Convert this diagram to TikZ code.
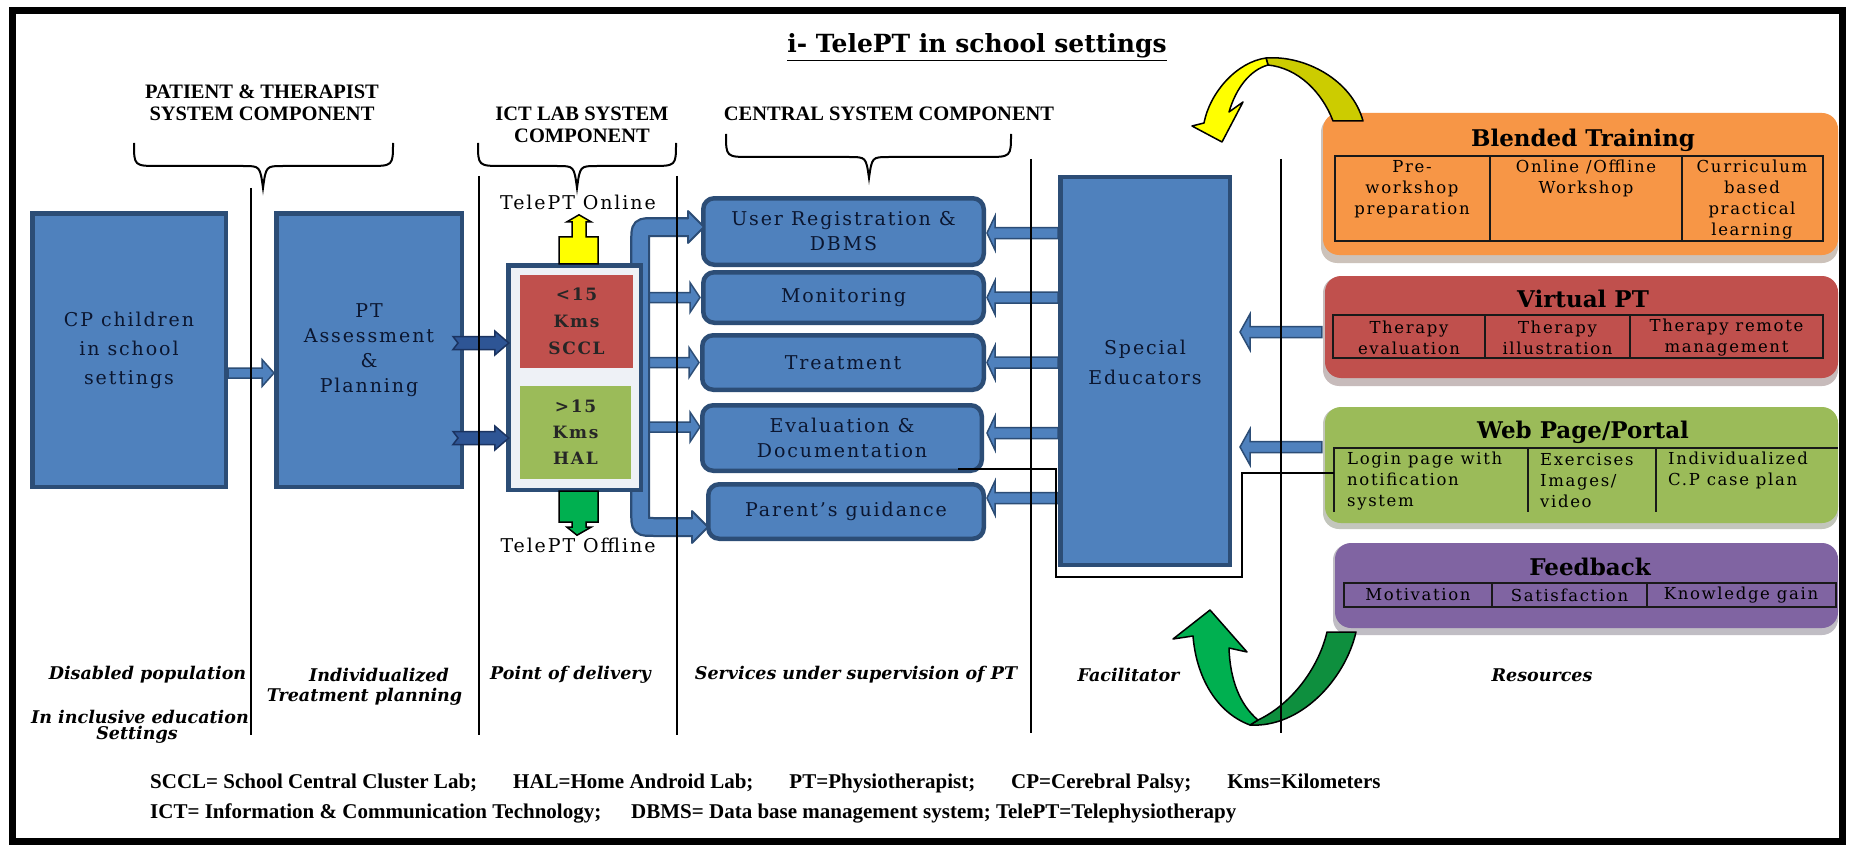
\documentclass[tikz,border=0pt]{standalone}
\usepackage{fontspec}
\usetikzlibrary{calc}
\setmainfont{DejaVu Serif}
\newfontfamily\bodyf{DejaVu Serif}[LetterSpace=10]
\newfontfamily\serf{DejaVu Serif}
\newfontfamily\timf{Liberation Serif}

\definecolor{boxblue}{HTML}{4F81BD}
\definecolor{boxedge}{HTML}{2C4D76}
\definecolor{navy}{HTML}{0B1630}
\definecolor{ictred}{HTML}{C0504D}
\definecolor{ictgreen}{HTML}{9BBB59}
\definecolor{lightpanel}{HTML}{EEF1F6}
\definecolor{notchblue}{HTML}{2E5595}
\definecolor{notchedge}{HTML}{1B3360}
\definecolor{panelorange}{HTML}{F79646}
\definecolor{panelred}{HTML}{C0504D}
\definecolor{panelgreen}{HTML}{9BBB59}
\definecolor{panelpurple}{HTML}{8064A2}
\definecolor{loopyellow}{HTML}{FFFF00}
\definecolor{loopolive}{HTML}{CCCC00}
\definecolor{loopgreen}{HTML}{00B050}
\definecolor{loopdark}{HTML}{0E8F3E}
\colorlet{shadeO}{panelorange!35!black}
\colorlet{shadeR}{panelred!35!black}
\colorlet{shadeG}{panelgreen!35!black}
\colorlet{shadeP}{panelpurple!35!black}

% horizontal block arrow: style, from, to, shaft half-height, head half-height, head length
\newcommand\blockarrow[6]{%
  \path[#1] let \p1=(#2), \p2=(#3), \n1={sign(\x2-\x1)} in
    (\x1,\y1+#4) -- (\x2-\n1*#6,\y1+#4) -- (\x2-\n1*#6,\y1+#5) -- (\x2,\y1)
    -- (\x2-\n1*#6,\y1-#5) -- (\x2-\n1*#6,\y1-#4) -- (\x1,\y1-#4) -- cycle;}
% same with a notched tail (last argument: notch depth)
\newcommand\notcharrow[7]{%
  \path[#1] let \p1=(#2), \p2=(#3), \n1={sign(\x2-\x1)} in
    (\x1,\y1+#4) -- (\x2-\n1*#6,\y1+#4) -- (\x2-\n1*#6,\y1+#5) -- (\x2,\y1)
    -- (\x2-\n1*#6,\y1-#5) -- (\x2-\n1*#6,\y1-#4) -- (\x1,\y1-#4) -- (\x1+\n1*#7,\y1) -- cycle;}
% head of the tube arrows, pointing right
\newcommand\tubehead[1]{%
  \fill[boxblue] ($(#1)+(-16,-16)$) -- (#1) -- ($(#1)+(-16,16)$) -- cycle;
  \draw[boxedge, line width=1.8pt, line join=round]
    ($(#1)+(-16,-8)$) -- ($(#1)+(-16,-16)$) -- (#1) -- ($(#1)+(-16,16)$) -- ($(#1)+(-16,8)$);}
% curly brace opening downwards: x1, xm, x2, ytop, ymid, ytip
\newcommand\topbrace[6]{%
  \draw[line width=2pt] (#1,#4) .. controls (#1,#5) .. (#1+25,#5) -- (#2-20,#5)
    .. controls (#2-3,#5) .. (#2,#6) .. controls (#2+3,#5) .. (#2+20,#5)
    -- (#3-25,#5) .. controls (#3,#5) .. (#3,#4);}

\begin{document}
\begin{tikzpicture}[x=1pt,y=-1pt,
  lane/.style={line width=1.8pt, black},
  blockbox/.style={draw=boxedge, line width=4.5pt, fill=boxblue, inner sep=0pt,
    text=navy, align=center, font=\bodyf\fontsize{19}{25}\selectfont},
  centralbox/.style={blockbox, rounded corners=11pt},
  panel/.style={rounded corners=16pt, inner sep=0pt},
  paneltitle/.style={font=\serf\bfseries\fontsize{23}{26}\selectfont, inner sep=0pt},
  cell/.style={font=\bodyf\fontsize{16.5}{21}\selectfont, align=center, inner sep=0pt},
  cellleft/.style={cell, align=left},
  hdr/.style={font=\timf\bfseries\fontsize{20.5}{22}\selectfont, align=center, inner sep=0pt},
  lanelabel/.style={font=\serf\bfseries\itshape\fontsize{17.5}{22}\selectfont, inner sep=0pt},
  footer/.style={font=\timf\bfseries\fontsize{21}{25}\selectfont, anchor=west, inner sep=0pt},
  tablerule/.style={line width=1.8pt, black!90},
  barrow/.style={fill=boxblue, draw=boxedge, line width=1.5pt},
  darrow/.style={fill=notchblue, draw=notchedge, line width=1.5pt},
  plain/.style={font=\bodyf\fontsize{19}{25}\selectfont, inner sep=0pt}]

\useasboundingbox (0,0) rectangle (1851,845);
\fill[white] (0,0) rectangle (1851,845);

% ---------- resource panels ----------
\node[panel, fill=shadeO!30, minimum width=517pt, minimum height=147pt] (blendedsh) at (1579.5,189.5) {};
\node[panel, fill=panelorange, minimum width=515pt, minimum height=142pt] (blended) at (1580.5,184) {};
\node[panel, fill=shadeR!30, minimum width=515pt, minimum height=109pt] (virtualsh) at (1580.5,331.5) {};
\node[panel, fill=panelred, minimum width=513pt, minimum height=102pt] (virtual) at (1581.5,327) {};
\node[panel, fill=shadeG!30, minimum width=515pt, minimum height=121pt] (websh) at (1580.5,468.5) {};
\node[panel, fill=panelgreen, minimum width=513pt, minimum height=116pt] (web) at (1581.5,465) {};
\node[panel, fill=shadeP!30, minimum width=505pt, minimum height=91pt] (feedsh) at (1585.5,589.5) {};
\node[panel, fill=panelpurple, minimum width=503pt, minimum height=85pt] (feed) at (1586.5,585.5) {};

\node[paneltitle] (blendedt) at (1583,140) {Blended Training};
\node[paneltitle] (virtualt) at (1583,299) {Virtual PT};
\node[paneltitle] (webt) at (1583,432) {Web Page/Portal};
\node[paneltitle] (feedt) at (1590,567) {Feedback};

% panel tables
\draw[tablerule] (1335,156) rectangle (1823,241) (1490,156) -- (1490,241) (1682,156) -- (1682,241);
\draw[tablerule] (1333,315) rectangle (1823,358) (1485,315) -- (1485,358) (1630,315) -- (1630,358);
\draw[tablerule] (1334,512) -- (1334,448) -- (1838,448) (1528,448) -- (1528,512) (1656,448) -- (1656,512);
\draw[tablerule] (1344,583) rectangle (1836,607) (1492,583) -- (1492,607) (1647,583) -- (1647,607);
\coordinate (webtab) at (1334,473);

\node[cell] (bt1) at (1412,189) {Pre-\\workshop\\preparation};
\node[cell] (bt2) at (1586,178.5) {Online /Offline\\Workshop};
\node[cell] (bt3) at (1752,199.5) {Curriculum\\based\\practical\\learning};
\node[cell] (vt1) at (1409,337.5) {Therapy\\evaluation};
\node[cell] (vt2) at (1557.5,337.5) {Therapy\\illustration};
\node[cell] (vt3) at (1726.5,337.5) {Therapy remote\\management};
\node[cellleft, anchor=west] (wt1) at (1347,481) {Login page with\\notification\\system};
\node[cellleft, anchor=west] (wt2) at (1540,481) {Exercises\\Images/\\video};
\node[cellleft, anchor=west] (wt3) at (1668,470.5) {Individualized\\C.P case plan};
\node[cell] (ft1) at (1418,595) {Motivation};
\node[cell] (ft2) at (1569.5,595) {Satisfaction};
\node[cell] (ft3) at (1741,595) {Knowledge gain};

% ---------- cycle arrows ----------
\draw[line width=1.5pt, fill=loopolive, line join=round]
  (1363,121) .. controls (1352,80) and (1305,55) .. (1266,58) -- (1268,65)
  .. controls (1298,68) and (1322,92) .. (1333,121) -- cycle;
\draw[line width=1.5pt, fill=loopyellow, line join=round]
  (1266,58) .. controls (1237,62) and (1210,92) .. (1204,123) -- (1192,126) -- (1222,142)
  -- (1243,102) -- (1229,112) .. controls (1236,88) and (1250,70) .. (1268,65) -- cycle;
\draw[line width=1.5pt, fill=loopdark, line join=round]
  (1250,725) .. controls (1300,728) and (1345,680) .. (1356,632) -- (1327,632)
  .. controls (1318,670) and (1290,705) .. (1258,720) -- cycle;
\draw[line width=1.5pt, fill=loopgreen, line join=round]
  (1210,610) -- (1247,652) -- (1229,648) .. controls (1230,680) and (1240,705) .. (1258,720)
  -- (1250,725) .. controls (1215,712) and (1196,675) .. (1193,636) -- (1173,639) -- cycle;

% ---------- boxes ----------
\node[blockbox, minimum width=193.5pt, minimum height=273.5pt, font=\bodyf\fontsize{19}{29}\selectfont]
  (b1) at (129,350) {CP children\\in school\\settings};
\node[blockbox, minimum width=185.5pt, minimum height=273.5pt]
  (b2) at (369,350) {PT\\Assessment\\\&\\Planning};

\node[centralbox, minimum width=280.5pt, minimum height=66.5pt] (reg) at (843.5,231.5) {User Registration \&\\DBMS};
\node[centralbox, minimum width=280.5pt, minimum height=50.5pt] (mon) at (843.5,297.5) {Monitoring};
\node[centralbox, minimum width=281.5pt, minimum height=54.5pt] (treat) at (843,362.5) {Treatment};
\node[centralbox, minimum width=279.5pt, minimum height=65.5pt] (eval) at (842,438) {Evaluation \&\\Documentation};
\node[centralbox, minimum width=275.5pt, minimum height=54.5pt] (parent) at (846,511.5) {Parent’s guidance};

\node[blockbox, minimum width=169.5pt, minimum height=387.5pt] (se) at (1145,371) {};
\node[plain, text=navy, align=center, font=\bodyf\fontsize{19}{30}\selectfont] (selabel) at (1145,362) {Special\\Educators};

% ICT lab container (its frame is placed first so the arrows can refer to it)
\path (574.5,377.5) node[minimum width=137pt, minimum height=229pt, inner sep=0pt] (ict) {};

% arrows from the lab to the central services
\blockarrow{barrow}{$(ict.east |- mon.west)$}{$(mon.west)+(-1,0)$}{5pt}{15pt}{10pt}
\blockarrow{barrow}{$(ict.east |- treat.west)$}{$(treat.west)+(-1,0)$}{5pt}{15pt}{10pt}
\blockarrow{barrow}{$(ict.east |- eval.west)+(0,-11)$}{$(eval.west)+(0,-11)$}{5pt}{15pt}{10pt}

% tube arrow from the lab to registration and parent's guidance
\coordinate (tipA) at ($(reg.west)+(3,-4.5)$);
\coordinate (tipB) at ($(parent.west)+(2,15.5)$);
\coordinate (tubex) at ($(ict.east)+(-3,0)$);
\foreach \w/\c in {20pt/boxedge, 15.5pt/boxblue}
  \draw[\c, line width=\w]
    ($(tipA)+(-16,0)$) -- ($(tubex |- tipA)+(14,0)$) .. controls (tubex |- tipA) .. ($(tubex |- tipA)+(0,14)$)
    -- ($(tubex |- tipB)+(0,-14)$) .. controls (tubex |- tipB) .. ($(tubex |- tipB)+(14,0)$) -- ($(tipB)+(-16,0)$);
\tubehead{tipA}
\tubehead{tipB}

\node[draw=boxedge, line width=4.5pt, fill=lightpanel, minimum width=132.5pt, minimum height=224.5pt, inner sep=0pt]
  (ictframe) at (ict) {};
\node[fill=ictred, minimum width=113pt, minimum height=93pt, inner sep=0pt, align=center,
  font=\bodyf\bfseries\fontsize{17}{27}\selectfont, text=black!85] (sccl) at (576.5,321.5) {<15\\Kms\\SCCL};
\node[fill=ictgreen, minimum width=111pt, minimum height=93pt, inner sep=0pt, align=center,
  font=\bodyf\bfseries\fontsize{17}{26}\selectfont, text=black!85] (hal) at (575.5,432.5) {>15\\Kms\\HAL};

% online / offline markers
\begin{scope}[shift={(ict.north)}]
  \draw[line width=1.5pt, fill=loopyellow, line join=miter]
    (-15.5,1) -- (-15.5,-26) -- (-2.5,-26) -- (-2.5,-41) -- (-7.5,-41) -- (4.5,-48)
    -- (16.5,-41) -- (11.5,-41) -- (11.5,-26) -- (23.5,-26) -- (23.5,1) -- cycle;
\end{scope}
\begin{scope}[shift={(ict.south)}]
  \draw[line width=1.5pt, fill=loopgreen, line join=miter]
    (-15.5,-1) -- (-15.5,30) -- (-2.5,30) -- (-2.5,35) -- (-7.5,35) -- (2.5,43)
    -- (16.5,35) -- (11.5,35) -- (11.5,30) -- (23.5,30) -- (23.5,-1) -- cycle;
\end{scope}
\node[plain] (online) at (578,202) {TelePT Online};
\node[plain] (offline) at (578,545) {TelePT Offline};

% patient flow arrows
\blockarrow{barrow}{$(b1.east)+(0,23)$}{$(b2.west)+(0,23)$}{5pt}{13.5pt}{12pt}
\notcharrow{darrow}{$(b2.east)+(-11,-7)$}{$(ict.west)+(3,-7)$}{6.5pt}{12pt}{14pt}{5pt}
\notcharrow{darrow}{$(b2.east)+(-11,88)$}{$(ict.west)+(3,88)$}{6.5pt}{12pt}{14pt}{5pt}

% special educators to services
\blockarrow{barrow}{$(se.west |- reg.east)+(0,1.5)$}{$(reg.east)+(1,1.5)$}{5.5pt}{17pt}{8pt}
\blockarrow{barrow}{$(se.west |- mon.east)$}{$(mon.east)+(1,0)$}{5.5pt}{17pt}{8pt}
\blockarrow{barrow}{$(se.west |- treat.east)$}{$(treat.east)+(1,0)$}{5.5pt}{17pt}{8pt}
\blockarrow{barrow}{$(se.west |- eval.east)+(0,-5)$}{$(eval.east)+(3,-5)$}{5.5pt}{17pt}{8pt}
\blockarrow{barrow}{$(se.west |- parent.east)+(0,-13.5)$}{$(parent.east)+(1,-13.5)$}{5.5pt}{17pt}{8pt}

% resources to special educators
\blockarrow{barrow}{$(virtual.west)+(-3,5)$}{$(se.east |- virtual.west)+(8,5)$}{5.5pt}{18pt}{10pt}
\blockarrow{barrow}{$(web.west)+(-3,-18)$}{$(se.east |- web.west)+(8,-18)$}{5.5pt}{18pt}{10pt}

% documentation link to the web portal
\draw[line width=2pt] ($(eval.south east)+(-26,-4)$) -| ($(se.south west)+(-2,10)$)
  -- ($(webtab)+(-92,104)$) |- (webtab);

% ---------- lanes, braces, headings ----------
\draw[lane] (251,188) -- (251,735);
\draw[lane] (479,176) -- (479,735);
\draw[lane] (677,176) -- (677,735);
\draw[lane] (1031,159) -- (1031,733);
\draw[lane] (1281,159) -- (1281,733);

\topbrace{134}{263}{393}{143}{166}{188}
\topbrace{478}{577}{676}{143}{166}{188}
\topbrace{726}{869}{1011}{134}{157}{178}

\node[font=\serf\bfseries\fontsize{25}{30}\selectfont, anchor=base, inner sep=0pt] (title) at (977,53)
  {\underline{i- TelePT in school settings}};
\node[hdr] (hpt) at (262,103) {PATIENT \& THERAPIST\\SYSTEM COMPONENT};
\node[hdr] (hict) at (582,125) {ICT LAB SYSTEM\\COMPONENT};
\node[hdr] (hcen) at (889,114) {CENTRAL SYSTEM COMPONENT};

\node[lanelabel] (ll1) at (147.5,675) {Disabled population};
\node[lanelabel] (ll1b) at (140,717) {In inclusive education};
\node[lanelabel] (ll1c) at (137,735) {Settings};
\node[lanelabel] (ll2) at (379,675) {Individualized};
\node[lanelabel] (ll2b) at (364.5,697) {Treatment planning};
\node[lanelabel] (ll3) at (570.5,675) {Point of delivery};
\node[lanelabel] (ll4) at (856,675) {Services under supervision of PT};
\node[lanelabel] (ll5) at (1128.5,675) {Facilitator};
\node[lanelabel] (ll6) at (1542,675) {Resources};

\node[footer] (abbr1) at (150,783) {SCCL= School Central Cluster Lab;\hspace{36pt}HAL=Home Android Lab;\hspace{36pt}PT=Physiotherapist;\hspace{36pt}CP=Cerebral Palsy;\hspace{36pt}Kms=Kilometers};
\node[footer] (abbr2) at (150,813) {ICT= Information \& Communication Technology;\hspace{30pt}DBMS= Data base management system; TelePT=Telephysiotherapy};

% outer frame
\draw[line width=7pt] (12,11) rectangle (1842,841);
\end{tikzpicture}
\end{document}
